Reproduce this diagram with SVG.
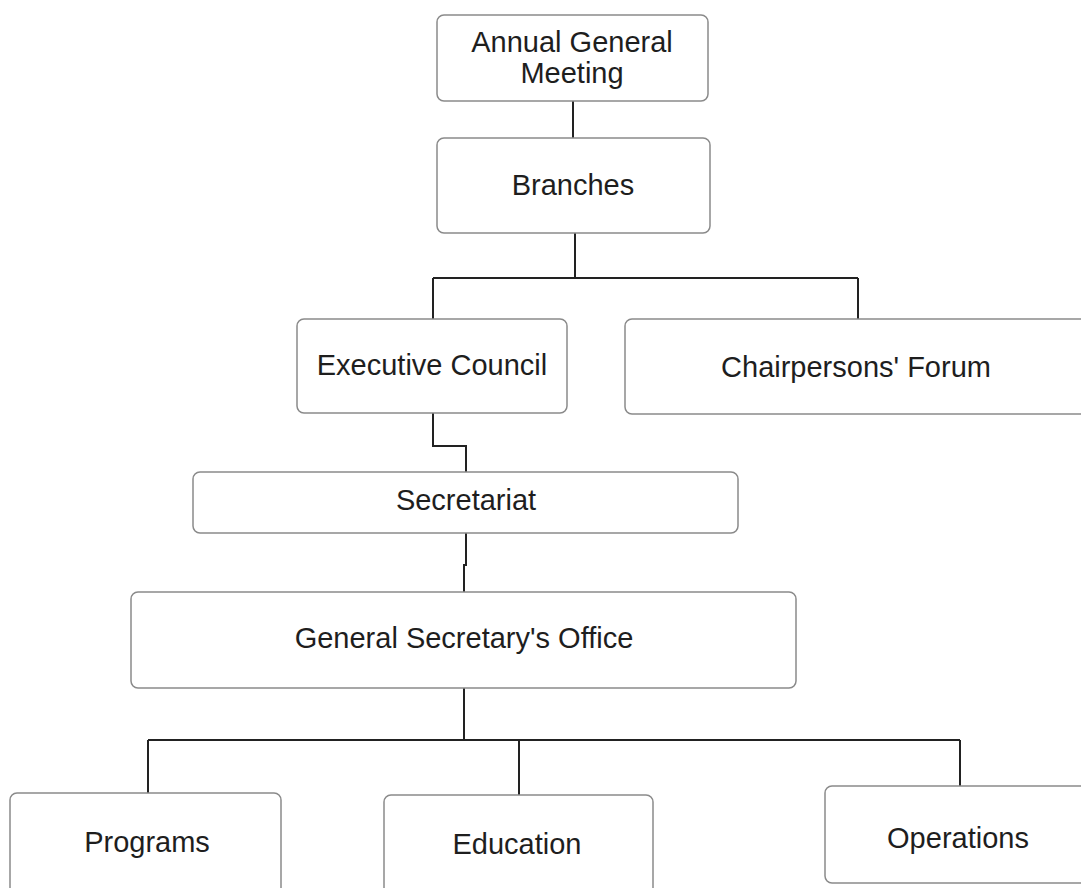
<svg xmlns="http://www.w3.org/2000/svg" width="1081" height="888" viewBox="0 0 1081 888">
<style>
.box{fill:#fff;stroke:#8a8a8a;stroke-width:1.5}
.t{font-family:"Liberation Sans",Arial,sans-serif;font-size:29px;fill:#1e1e1e;text-anchor:middle}
.c{fill:none;stroke:#222;stroke-width:2}
</style>
<rect width="1081" height="888" fill="#fff"/>
<g id="connectors">
<path class="c" d="M573 101V138"/>
<path class="c" d="M575 233V278M433 278H858M433 278V319M858 278V319"/>
<path class="c" d="M433 413V446H466V472"/>
<path class="c" d="M466 533V565H464V592"/>
<path class="c" d="M464 688V740M148 740H960M148 740V793M519 740V795M960 740V786"/>
</g>
<g id="agm"><rect class="box" x="437" y="15" width="271" height="86" rx="7"/><text class="t" x="572" y="52">Annual General</text><text class="t" x="572" y="83">Meeting</text></g>
<g id="branches"><rect class="box" x="437" y="138" width="273" height="95" rx="7"/><text class="t" x="573" y="195">Branches</text></g>
<g id="exec"><rect class="box" x="297" y="319" width="270" height="94" rx="7"/><text class="t" x="432" y="375">Executive Council</text></g>
<g id="forum"><rect class="box" x="625" y="319" width="462" height="95" rx="7"/><text class="t" x="856" y="377">Chairpersons' Forum</text></g>
<g id="secretariat"><rect class="box" x="193" y="472" width="545" height="61" rx="7"/><text class="t" x="466" y="510">Secretariat</text></g>
<g id="gso"><rect class="box" x="131" y="592" width="665" height="96" rx="7"/><text class="t" x="464" y="648">General Secretary's Office</text></g>
<g id="programs"><rect class="box" x="10" y="793" width="271" height="110" rx="7"/><text class="t" x="147" y="852">Programs</text></g>
<g id="education"><rect class="box" x="384" y="795" width="269" height="110" rx="7"/><text class="t" x="517" y="854">Education</text></g>
<g id="operations"><rect class="box" x="825" y="786" width="262" height="97" rx="7"/><text class="t" x="958" y="848">Operations</text></g>
</svg>
